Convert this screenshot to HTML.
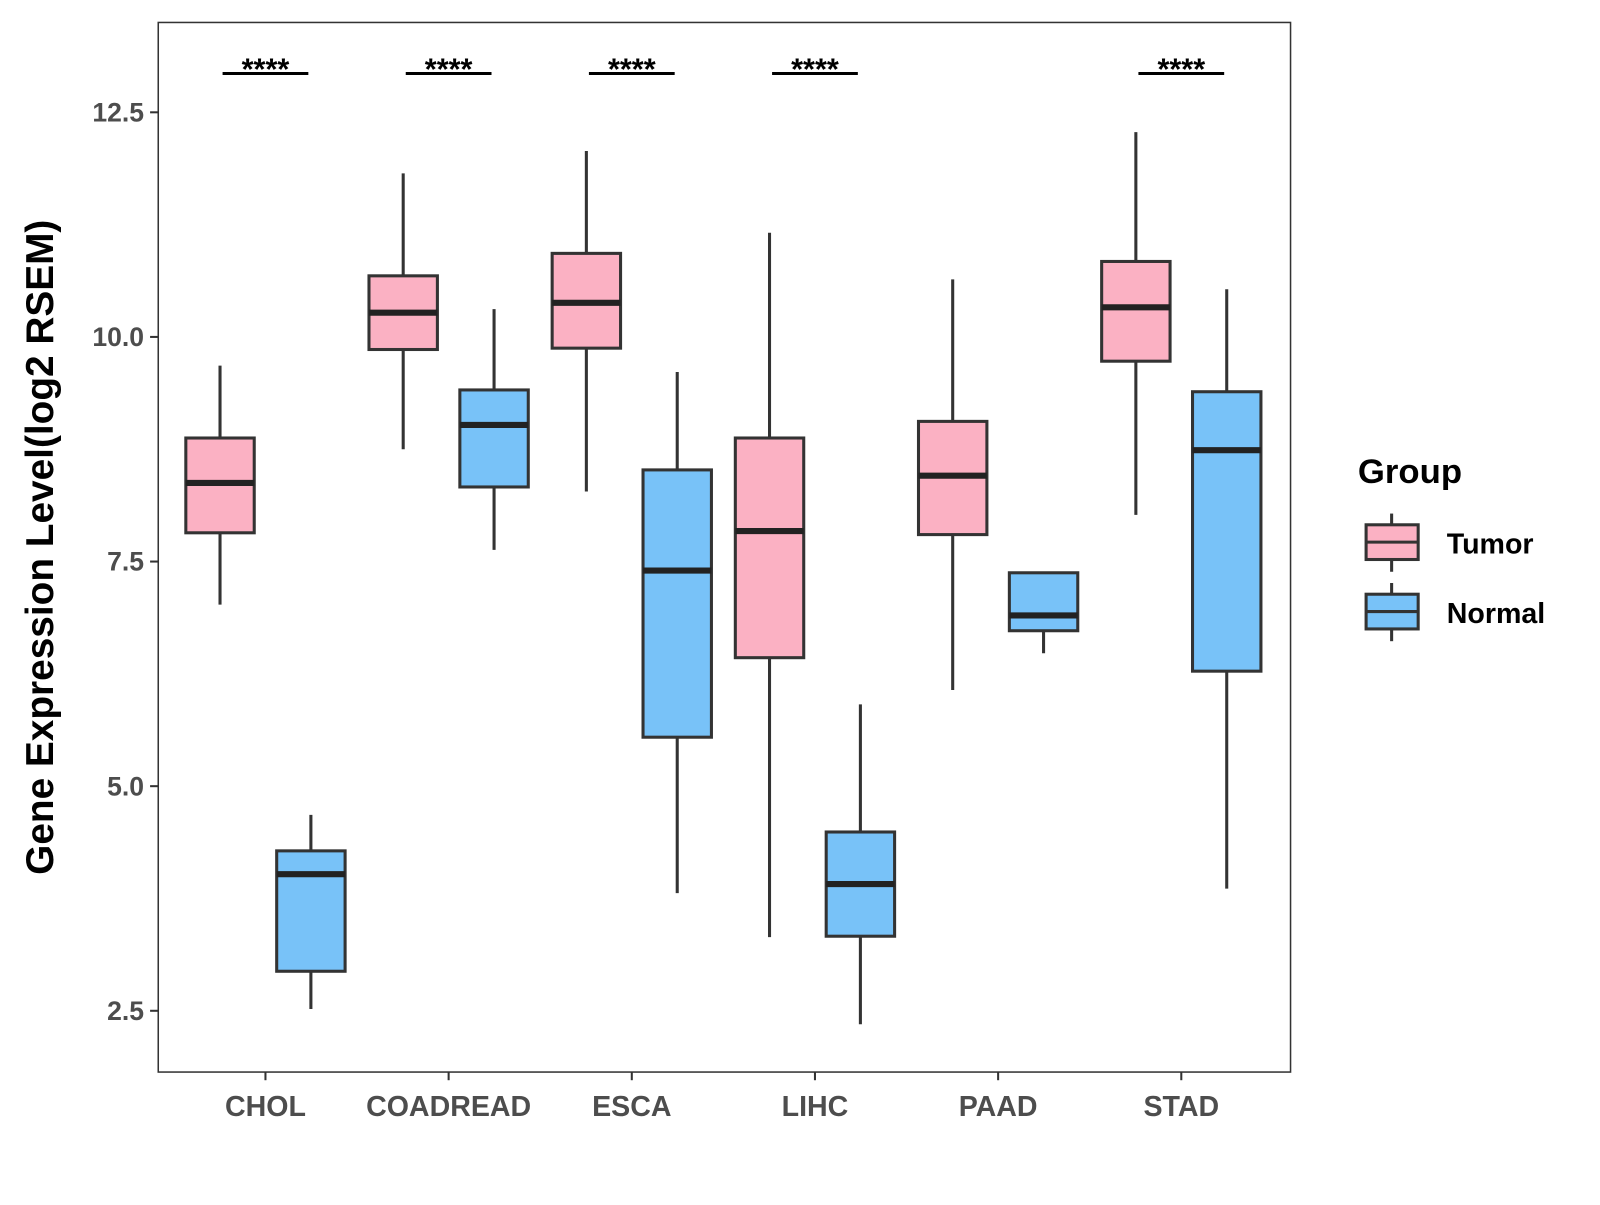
<!DOCTYPE html>
<html><head><meta charset="utf-8"><style>
body{margin:0;background:#fff}
svg text{font-family:"Liberation Sans",Arial,sans-serif;font-weight:bold}
</style></head><body>
<svg id="chart" width="1600" height="1200">
<g transform="scale(1.021)">
<rect x="155" y="22" width="1109" height="1028" fill="none" stroke="#333" stroke-width="1.5"/>
<g id="yaxis"></g>
<g id="xaxis"></g>
<g id="boxes"></g>
<g id="sig"></g>
<text x="52" y="536" font-size="38" text-anchor="middle" transform="rotate(-90 52 536)" fill="#000">Gene Expression Level(log2 RSEM)</text>
<g>
<text x="1330" y="473" font-size="34" fill="#000">Group</text>
<g>
<line x1="1363" y1="503" x2="1363" y2="560" stroke="#333" stroke-width="3"/>
<rect x="1338" y="514" width="51" height="34" fill="#FBB1C3" stroke="#333" stroke-width="3"/>
<line x1="1338" y1="531" x2="1389" y2="531" stroke="#333" stroke-width="3"/>
<text x="1417" y="542" font-size="28" fill="#000">Tumor</text></g>
<g>
<line x1="1363" y1="571" x2="1363" y2="628" stroke="#333" stroke-width="3"/>
<rect x="1338" y="582" width="51" height="34" fill="#78C2F8" stroke="#333" stroke-width="3"/>
<line x1="1338" y1="599" x2="1389" y2="599" stroke="#333" stroke-width="3"/>
<text x="1417" y="610" font-size="28" fill="#000">Normal</text></g>
</g>
</g>
</svg>
<script>
const categories=["CHOL","COADREAD","ESCA","LIHC","PAAD","STAD"];
// [low, q1, median, q3, high]
const tumorStats=[[7.02,7.82,8.375,8.875,9.68],[8.75,9.86,10.27,10.68,11.82],[8.28,9.875,10.38,10.93,12.07],[3.32,6.43,7.84,8.875,11.16],[6.07,7.80,8.455,9.06,10.64],[8.02,9.73,10.33,10.84,12.28]];
const normalStats=[[2.52,2.94,4.02,4.28,4.68],[7.63,8.33,9.02,9.41,10.31],[3.81,5.545,7.40,8.52,9.61],[2.35,3.33,3.91,4.49,5.91],[6.48,6.73,6.9,7.375,7.375],[3.86,6.28,8.74,9.39,10.53]];
const yTicks=[2.5,5.0,7.5,10.0,12.5];
const sigLabels=["****","****","****","****","","****"];
const NS="http://www.w3.org/2000/svg";
const y=v=>110+(12.5-v)*88;
const x=i=>260+i*179.4;
function mk(tag,attrs,parent){const e=document.createElementNS(NS,tag);for(const k in attrs)e.setAttribute(k,attrs[k]);parent.appendChild(e);return e;}
const ya=document.getElementById('yaxis'),xa=document.getElementById('xaxis'),bx=document.getElementById('boxes'),sg=document.getElementById('sig');
yTicks.forEach(t=>{
  const l=mk('line',{x1:147,x2:155,y1:y(t),y2:y(t),stroke:'#333','stroke-width':2},ya);
  
  
  const tx=mk('text',{x:141,y:y(t)+9,'font-size':26,'text-anchor':'end',fill:'#4d4d4d'},ya);
  tx.textContent=t.toFixed(1);
  
  
});
categories.forEach((c,i)=>{
  const l=mk('line',{x1:x(i),x2:x(i),y1:1050,y2:1058,stroke:'#333','stroke-width':2},xa);
  
  
  const tx=mk('text',{x:x(i),y:1093,'font-size':28,'text-anchor':'middle',fill:'#4d4d4d'},xa);
  tx.textContent=c;
  
  
  [[tumorStats[i],-44.5,'#FBB1C3','tumor'],[normalStats[i],44.5,'#78C2F8','normal']].forEach(([s,off,col,nm])=>{
    const cx=x(i)+off;
    const g=mk('g',{},bx);
    
    
    mk('line',{x1:cx,x2:cx,y1:y(s[4]),y2:y(s[0]),stroke:'#333','stroke-width':3},g);
    mk('rect',{x:cx-33.5,y:y(s[3]),width:67,height:y(s[1])-y(s[3]),fill:col,stroke:'#333','stroke-width':3},g);
    mk('line',{x1:cx-33.5,x2:cx+33.5,y1:y(s[2]),y2:y(s[2]),stroke:'#222','stroke-width':6},g);
  });
  if(sigLabels[i]){
    const g=mk('g',{},sg);
    
    
    mk('line',{x1:x(i)-42,x2:x(i)+42,y1:72,y2:72,stroke:'#000','stroke-width':3},g);
    const t=mk('text',{x:x(i),y:78,'font-size':30,'text-anchor':'middle',fill:'#000'},g);
    t.textContent=sigLabels[i];
  }
});
</script>
</body></html>
